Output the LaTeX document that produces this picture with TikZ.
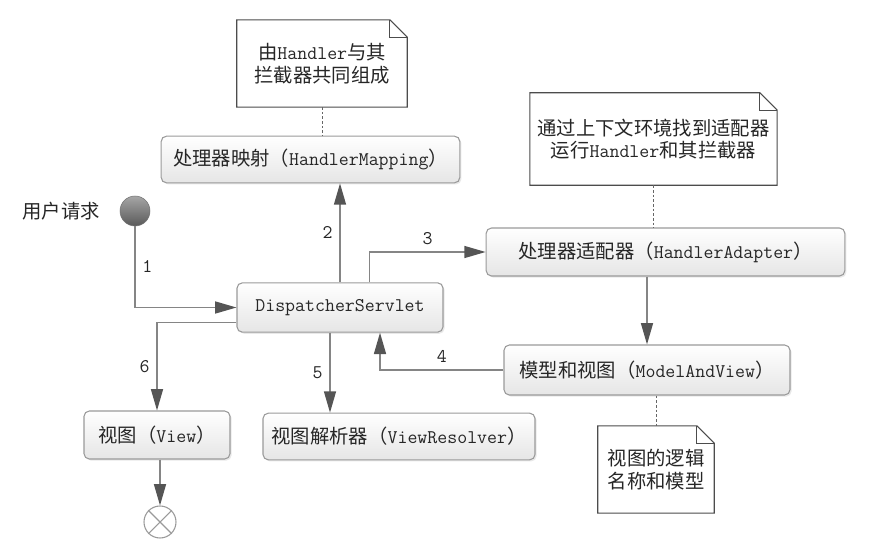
\documentclass[tikz,border=0pt]{standalone}
\usepackage{fontspec}
\setmainfont{Noto Sans CJK SC}
\usetikzlibrary{arrows.meta,shadows}
\definecolor{linegray}{HTML}{858585}
\definecolor{headgray}{HTML}{555555}
\definecolor{boxgray}{HTML}{9A9A9A}

\begin{document}
\begin{tikzpicture}[x=0.75pt,y=-0.75pt,
	font=\fontsize{14.5pt}{17pt}\selectfont, text=black!85,
	box/.style={rectangle, rounded corners=4pt, draw=boxgray, line width=0.8pt,
		top color=white, bottom color=gray!20, inner sep=0pt,
		drop shadow={shadow xshift=1.2pt, shadow yshift=-1.2pt, opacity=0.18, fill=gray}},
	note/.style={rectangle, align=center, inner sep=0pt, fill=white},
	notes/.style={draw=black!70, line width=0.8pt},
	flow/.style={draw=linegray, line width=1.1pt, -{Triangle[length=16pt,width=9pt,color=headgray]}},
	link/.style={draw=black!60, line width=0.7pt, dash pattern=on 2pt off 1.5pt},
	num/.style={font=\fontsize{14.5pt}{17pt}\selectfont\ttfamily, inner sep=5pt}]
	\useasboundingbox (0,0) rectangle (892,560);

	% notes
	\path (322,63.5) node(note1)[note, minimum width=127.5pt, minimum height=65pt]
		{由\texttt{Handler}与其\\拦截器共同组成}
	(653.5,139) node(note2)[note, minimum width=185pt, minimum height=69pt]
		{通过上下文环境找到适配器\\运行\texttt{Handler}和其拦截器}
	(656,469.5) node(note3)[note, minimum width=87pt, minimum height=65pt]
		{视图的逻辑\\名称和模型};
	\foreach \n in {note1,note2,note3} {
		\draw[notes] (\n.north west) -- ([xshift=-13pt]\n.north east)
			-- ([yshift=-13pt]\n.north east) -- (\n.south east) -- (\n.south west) -- cycle;
		\draw[notes] ([xshift=-13pt]\n.north east) |- ([yshift=-13pt]\n.north east);
	}

	% boxes
	\path (310.5,159.5) node(hm)[box, minimum width=224pt, minimum height=35pt]
		{处理器映射（\texttt{HandlerMapping}）}
	(665.5,252) node(ha)[box, minimum width=269pt, minimum height=36pt]
		{处理器适配器（\texttt{HandlerAdapter}）}
	(340,307.5) node(ds)[box, minimum width=154.5pt, minimum height=37pt]
		{\texttt{DispatcherServlet}}
	(647,370) node(mav)[box, minimum width=214.5pt, minimum height=37.5pt]
		{模型和视图（\texttt{ModelAndView}）}
	(399,436.5) node(vr)[box, minimum width=204pt, minimum height=35pt]
		{视图解析器（\texttt{ViewResolver}）}
	(157,435) node(view)[box, minimum width=109.5pt, minimum height=36pt]
		{视图（\texttt{View}）};

	% start and end
	\path (135,211) node(start)[circle, draw=black!55, minimum size=22.5pt, inner sep=0pt,
		top color=black!35, bottom color=black!65]{}
	(61,211) node(user){用户请求}
	(160,522) node(finish)[circle, draw=boxgray, fill=white, line width=0.8pt,
		minimum size=24pt, inner sep=0pt]{};
	\draw[draw=boxgray, line width=0.8pt] (finish.north west) -- (finish.south east)
		(finish.north east) -- (finish.south west);

	% dotted links
	\draw[link] (note1.south) -- (note1.south |- hm.north);
	\draw[link] (note2.south) -- (note2.south |- ha.north);
	\draw[link] (note3.north |- mav.south) -- (note3.north);

	% flow
	\draw[flow] (start) |- node[num, pos=0.25, right]{1} (ds.west);
	\draw[flow] (ds.north) -- node[num, left]{2} (ds.north |- hm.south);
	\draw[flow] ([xshift=22pt]ds.north) |- node[num, pos=0.75, above]{3} (ha.west);
	\draw[flow] (mav.north |- ha.south) -- (mav.north);
	\draw[flow] (mav.west) -| node[num, pos=0.25, above]{4} ([xshift=30pt]ds.south);
	\draw[flow] ([xshift=-7.5pt]ds.south) -- node[num, left]{5} ([xshift=-7.5pt]ds.south |- vr.north);
	\draw[flow] ([yshift=7.5pt]ds.south west) -| node[num, pos=0.75, left]{6} (view.north);
	\draw[flow] (view.south -| finish) -- (finish.north);
\end{tikzpicture}
\end{document}
